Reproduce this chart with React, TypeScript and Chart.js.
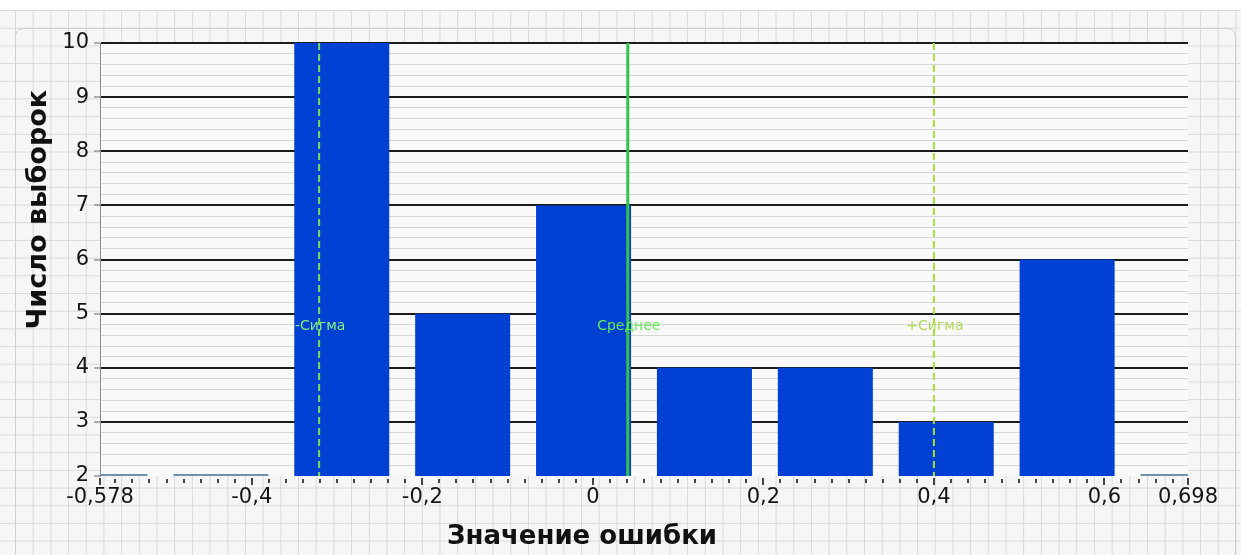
import React, { useEffect, useRef } from 'react';
import { Chart, registerables } from 'chart.js';

Chart.register(...registerables);

// ---- data ----
const BIN_CENTERS = [-0.578, -0.436, -0.294, -0.152, -0.01, 0.131, 0.273, 0.415, 0.556, 0.698];
const COUNTS = [2, 2, 10, 5, 7, 4, 4, 3, 6, 2];
const X_TICKS = [-0.578, -0.4, -0.2, 0, 0.2, 0.4, 0.6, 0.698];
const X_MIN = -0.578;
const X_MAX = 0.698;
const X_MINOR_STEP = 0.02;
const Y_MIN = 2;
const Y_MAX = 10;
const Y_MINOR_STEP = 0.2;
const MARKER_NAMES = ['-Сигма', 'Среднее', '+Сигма'];
const MARKER_VALUES = [-0.321, 0.041, 0.4];
const Y_TITLE = 'Число выборок';
const X_TITLE = 'Значение ошибки';

// ---- styles ----
const MARKER_LINE_COLORS = ['#78dc58', '#33c24c', '#a8dc3a'];
const MARKER_TEXT_COLORS = ['#86ee7c', '#66ea55', '#b0dc55'];
const MARKER_DASH = [[7, 4], [], [7, 4]];
const MARKER_WIDTH = [2, 3, 2];
const FONT = 'DejaVu Sans';

const isInt = (v: number) => Math.abs(v - Math.round(v)) < 1e-6;
const fmt = (v: number) => String(v).replace('.', ',');

const decor = {
  id: 'decor',
  beforeDraw(chart: any) {
    const { ctx, chartArea: a } = chart;
    ctx.save();
    ctx.fillStyle = '#f9f9f9';
    ctx.fillRect(a.left, a.top, a.right - a.left, a.bottom - a.top);
    ctx.restore();
  },
  afterDatasetsDraw(chart: any) {
    const { ctx, chartArea: a } = chart;
    const ys = chart.scales.y;
    const xs = chart.scales.x2;
    const meta = chart.getDatasetMeta(0);
    ctx.save();
    ctx.beginPath();
    ctx.rect(a.left, a.top - 2, a.right - a.left, a.bottom - a.top + 4);
    ctx.clip();
    // bars sitting on the axis minimum
    meta.data.forEach((el: any, i: number) => {
      if (COUNTS[i] <= ys.min) {
        const p = el.getProps(['x', 'width'], true);
        ctx.strokeStyle = '#7391aa';
        ctx.lineWidth = 2;
        ctx.beginPath();
        ctx.moveTo(p.x - p.width / 2, a.bottom - 1);
        ctx.lineTo(p.x + p.width / 2, a.bottom - 1);
        ctx.stroke();
      }
    });
    // marker lines
    MARKER_VALUES.forEach((v, i) => {
      const px = xs.getPixelForValue(v);
      ctx.strokeStyle = MARKER_LINE_COLORS[i];
      ctx.lineWidth = MARKER_WIDTH[i];
      ctx.setLineDash(MARKER_DASH[i]);
      ctx.beginPath();
      ctx.moveTo(px, a.top);
      ctx.lineTo(px, a.bottom);
      ctx.stroke();
    });
    ctx.setLineDash([]);
    // marker labels
    const ly = a.top + (a.bottom - a.top) * 0.655;
    ctx.font = `14px ${FONT}`;
    ctx.textAlign = 'center';
    ctx.textBaseline = 'middle';
    MARKER_VALUES.forEach((v, i) => {
      ctx.fillStyle = MARKER_TEXT_COLORS[i];
      ctx.fillText(MARKER_NAMES[i], xs.getPixelForValue(v) + 1, ly);
    });
    ctx.restore();
  },
  afterDraw(chart: any) {
    const { ctx, chartArea: a } = chart;
    const xs = chart.scales.x2;
    ctx.save();
    ctx.strokeStyle = '#444';
    ctx.lineWidth = 2;
    // minor ticks
    const first = Math.ceil((X_MIN + 1e-9) / X_MINOR_STEP);
    const last = Math.floor((X_MAX - 1e-9) / X_MINOR_STEP);
    for (let k = first; k <= last; k++) {
      const v = k * X_MINOR_STEP;
      const px = Math.round(xs.getPixelForValue(v));
      ctx.beginPath();
      ctx.moveTo(px, a.bottom + 3);
      ctx.lineTo(px, a.bottom + 7);
      ctx.stroke();
    }
    X_TICKS.forEach((v) => {
      const px = Math.round(xs.getPixelForValue(v));
      ctx.beginPath();
      ctx.moveTo(px, a.bottom + 2);
      ctx.lineTo(px, a.bottom + 9);
      ctx.stroke();
    });
    // axis titles
    ctx.fillStyle = '#111';
    ctx.textAlign = 'center';
    ctx.textBaseline = 'middle';
    ctx.font = `bold 26px ${FONT}`;
    ctx.fillText(X_TITLE, a.left + (a.right - a.left) * 0.443, a.bottom + 61);
    ctx.translate(a.left - 61, a.top + (a.bottom - a.top) * 0.385);
    ctx.rotate(-Math.PI / 2);
    ctx.font = `bold 27px ${FONT}`;
    ctx.fillText(Y_TITLE, 0, 0);
    ctx.restore();
  },
};

export default function App() {
  const ref = useRef<HTMLCanvasElement | null>(null);
  useEffect(() => {
    if (!ref.current) return;
    const chart = new Chart(ref.current, {
      type: 'bar',
      data: {
        labels: BIN_CENTERS.map(String),
        datasets: [
          {
            data: COUNTS,
            backgroundColor: '#0041d3',
            borderWidth: 0,
            barPercentage: 0.786,
            categoryPercentage: 1,
            clip: 0,
            xAxisID: 'x',
            yAxisID: 'y',
          } as any,
        ],
      },
      options: {
        animation: false,
        responsive: false,
        layout: { padding: { left: 30, top: 43, right: 53, bottom: 0 } },
        plugins: { legend: { display: false }, tooltip: { enabled: false } },
        scales: {
          x: { type: 'category', display: false, offset: false, grid: { offset: false } },
          x2: {
            type: 'linear',
            position: 'bottom',
            offset: false,
            min: X_MIN,
            max: X_MAX,
            afterBuildTicks: (s: any) => {
              s.ticks = X_TICKS.map((v) => ({ value: v }));
            },
            afterFit: (s: any) => {
              s.height = 79;
            },
            ticks: {
              autoSkip: false,
              maxRotation: 0,
              padding: 9,
              color: '#151515',
              font: { family: FONT, size: 21 },
              callback: (v: any) => fmt(Number(v)),
            },
            grid: { display: false, drawTicks: false, offset: false },
            border: { display: false },
          },
          y: {
            min: Y_MIN,
            max: Y_MAX,
            afterFit: (s: any) => {
              s.width = 70;
            },
            ticks: {
              stepSize: Y_MINOR_STEP,
              autoSkip: false,
              padding: 5,
              color: '#151515',
              font: { family: FONT, size: 21 },
              callback: (v: any) => (isInt(Number(v)) ? String(Math.round(Number(v))) : ''),
            },
            grid: {
              color: (c: any) => {
                const v = c.tick.value;
                if (Math.abs(v - Y_MIN) < 1e-6) return 'rgba(0,0,0,0)';
                return isInt(v) ? '#1c1c1c' : '#d6d6d6';
              },
              lineWidth: (c: any) => (isInt(c.tick.value) ? 2 : 1),
              tickLength: 6,
              tickWidth: 1,
              tickColor: (c: any) => (isInt(c.tick.value) ? '#666' : 'rgba(0,0,0,0)'),
            },
            border: { display: true, color: '#8a8a8a', width: 1 },
          },
        },
      },
      plugins: [decor],
    } as any);
    return () => chart.destroy();
  }, []);

  const paper = {
    position: 'absolute' as const,
    left: 0,
    top: 10,
    right: 0,
    bottom: 0,
    backgroundColor: '#f6f6f6',
    backgroundImage:
      'linear-gradient(to right, #d9d9d9 1px, transparent 1px), linear-gradient(to bottom, #d9d9d9 1px, transparent 1px)',
    backgroundSize: '17.7px 17.7px',
    backgroundPosition: '15px 0px',
  };

  return (
    <div style={{ position: 'fixed', left: 0, top: 0, width: 1241, height: 555, background: '#fff', overflow: 'hidden' }}>
      <div style={paper} />
      <div
        style={{
          position: 'absolute',
          left: 15,
          top: 28,
          width: 1219,
          height: 530,
          border: '1px solid #cfcfcf',
          borderRadius: 8,
        }}
      />
      <canvas ref={ref} width={1241} height={555} style={{ position: 'absolute', left: 0, top: 0, width: 1241, height: 555 }} />
    </div>
  );
}
